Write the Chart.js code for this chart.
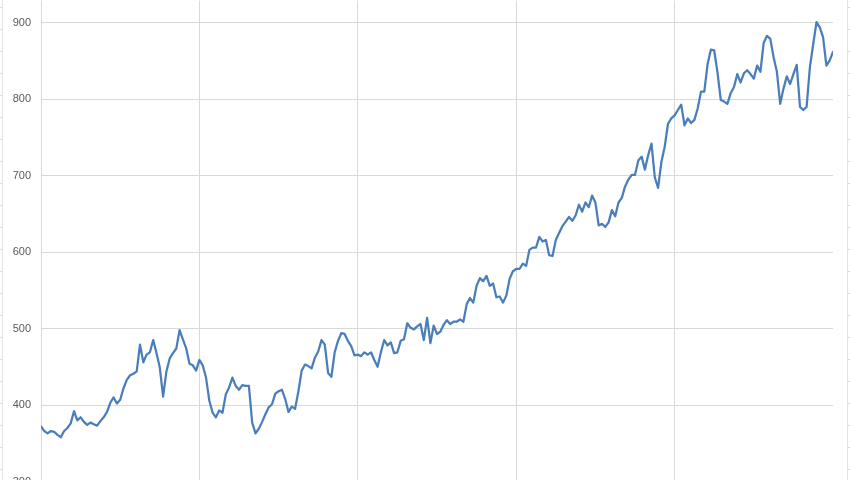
<!DOCTYPE html>
<html>
<head>
<meta charset="utf-8">
<script src="https://cdn.jsdelivr.net/npm/chart.js@4.4.1/dist/chart.umd.min.js"></script>
<style>
  html, body { margin: 0; padding: 0; background: #fff; overflow: hidden; }
  #frame { position: relative; width: 850px; height: 480px; overflow: hidden; background: #fff; }
  #wrap { position: absolute; left: 0; top: -16px; width: 850px; height: 546px; }
  .edgeL { position: absolute; left: 0; top: 0; width: 2px; height: 480px;
    border-right: 1px solid #e3e3e3;
    background: repeating-linear-gradient(to bottom, transparent 0px, transparent 7px, #dcdcdc 7px, #dcdcdc 8px, transparent 8px, transparent 22px); }
  .edgeR { position: absolute; left: 847px; top: 0; width: 3px; height: 480px;
    border-left: 1px solid #e3e3e3;
    background: repeating-linear-gradient(to bottom, transparent 0px, transparent 7px, #dcdcdc 7px, #dcdcdc 8px, transparent 8px, transparent 22px); }
</style>
</head>
<body>
<div id="frame">
  <div id="wrap"><canvas id="c"></canvas></div>
  <div class="edgeL"></div>
  <div class="edgeR"></div>
</div>
<script>
// Series values (one point per period)
const values = [
  372,366,363,366,365,361,358,366,370,376,
  392,380,384,378,374,377,375,373,379,384,
  391,403,410,402,407,422,433,439,441,444,
  479,456,466,469,485,468,449,411,444,461,
  468,474,498,486,474,454,452,445,459,452,
  436,406,390,384,393,390,414,423,436,425,
  420,426,425,425,377,363,369,378,388,397,
  401,415,418,420,408,391,398,395,418,445,
  453,451,448,462,470,485,479,442,437,469,
  484,494,493,484,477,465,466,464,469,466,
  469,459,450,469,485,478,482,468,469,484,
  486,507,501,499,503,506,485,514,481,504,
  493,496,505,511,506,509,509,512,509,532,
  540,534,556,566,562,569,556,559,541,542,
  534,543,565,575,578,578,585,582,603,606,
  606,620,614,616,596,595,616,625,634,640,
  646,641,648,662,653,665,659,674,665,635,
  637,633,639,655,647,665,671,686,695,701,
  701,720,725,708,727,742,698,684,718,738,
  768,775,779,786,793,766,775,769,773,788,
  810,810,846,865,864,835,799,797,794,808,
  816,833,822,834,838,833,827,844,836,874,
  883,879,855,836,794,814,830,820,833,845,
  790,786,790,842,872,901,894,881,844,851,
  862
];
// Tick values
const yTicks = [300, 400, 500, 600, 700, 800, 900];
const xGridEvery = 48;

const points = values.map((v, i) => ({ x: i, y: v }));

new Chart(document.getElementById('c'), {
  type: 'line',
  data: {
    datasets: [{
      data: points,
      borderColor: '#4a7ebb',
      borderWidth: 2.25,
      pointRadius: 0,
      tension: 0,
      fill: false,
      borderJoinStyle: 'round',
      borderCapStyle: 'round'
    }]
  },
  options: {
    responsive: true,
    maintainAspectRatio: false,
    animation: false,
    layout: { padding: { left: 0, right: 17, top: 0, bottom: 48.5 } },
    plugins: { legend: { display: false }, tooltip: { enabled: false } },
    scales: {
      x: {
        type: 'linear',
        min: 0,
        max: values.length - 1,
        ticks: { display: false, stepSize: xGridEvery },
        afterBuildTicks: (axis) => {
          axis.ticks = axis.ticks.filter(t => t.value % xGridEvery === 0 && t.value < values.length - 1);
        },
        grid: { color: '#d9d9d9', lineWidth: 1, drawTicks: false },
        border: { display: false }
      },
      y: {
        type: 'linear',
        min: yTicks[0],
        max: 929.1,
        afterBuildTicks: (axis) => {
          axis.ticks = yTicks.map(v => ({ value: v }));
        },
        afterFit: (scale) => { scale.width = 41; },
        ticks: {
          padding: 10,
          color: '#595959',
          font: { family: 'Liberation Sans, Arial, sans-serif', size: 11 }
        },
        grid: { color: '#d9d9d9', lineWidth: 1, drawTicks: false },
        border: { display: false }
      }
    }
  }
});
</script>
</body>
</html>
